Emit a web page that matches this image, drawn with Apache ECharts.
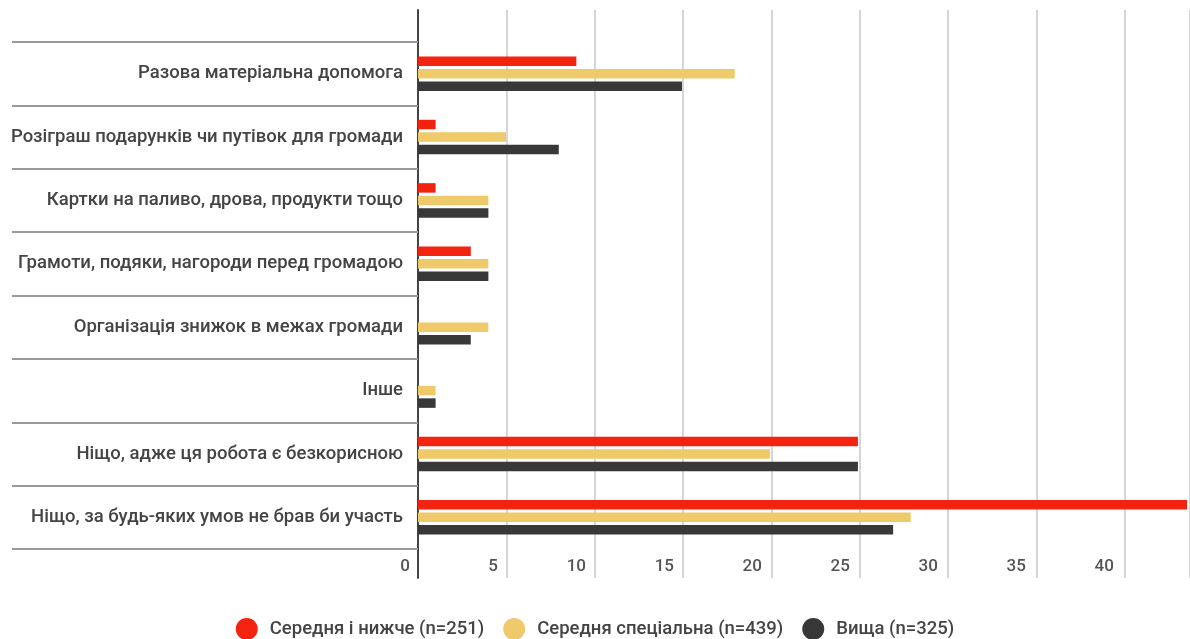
<!DOCTYPE html>
<html>
<head>
<meta charset="utf-8">
<script src="https://cdn.jsdelivr.net/npm/echarts@6/dist/echarts.min.js"></script>
<style>
html,body{margin:0;padding:0;background:#fff;}
#chart{width:1190px;height:639px;}
</style>
</head>
<body>
<div id="chart"></div>
<script>
const categories = [
  'Разова матеріальна допомога',
  'Розіграш подарунків чи путівок для громади',
  'Картки на паливо, дрова, продукти тощо',
  'Грамоти, подяки, нагороди перед громадою',
  'Організація знижок в межах громади',
  'Інше',
  'Ніщо, адже ця робота є безкорисною',
  'Ніщо, за будь-яких умов не брав би участь'
];
const seriesNames = ['Середня і нижче (n=251)', 'Середня спеціальна (n=439)', 'Вища (n=325)'];
const lowValues = [9, 1, 1, 3, 0, 0, 25, 45];
const specialValues = [18, 5, 4, 4, 4, 1, 20, 28];
const higherValues = [15, 8, 4, 4, 3, 1, 25, 27];
const xTicks = [0, 5, 10, 15, 20, 25, 30, 35, 40];

const colors = ['#f4230f', '#efca6b', '#393839'];
const font = 'Roboto, "Noto Sans", sans-serif';
const chart = echarts.init(document.getElementById('chart'));
const XMAX = 43.7;

function mkSeries(name, data, color) {
  return {
    name: name, type: 'bar', data: data, xAxisIndex: 0, yAxisIndex: 0,
    barWidth: 9.5, barGap: '32%',
    itemStyle: { color: color },
    emphasis: { disabled: true }
  };
}

chart.setOption({
  animation: false,
  textStyle: { fontFamily: font },
  grid: [
    { left: 418, right: 0, top: 42, bottom: 90 },
    { left: 418, right: 0, top: 10, bottom: 61 }
  ],
  xAxis: [
    {
      gridIndex: 0, type: 'value', min: 0, max: XMAX, interval: 5,
      axisLine: { show: false }, axisTick: { show: false }, splitLine: { show: false },
      axisLabel: {
        fontSize: 17, fontWeight: 500, color: '#555', margin: 9, align: 'right', padding: [0, 8, 0, 0],
        fontFamily: font,
        formatter: function (v) { return xTicks.indexOf(v) >= 0 ? String(v) : ''; }
      }
    },
    {
      gridIndex: 1, type: 'value', min: 0, max: XMAX, interval: 5,
      axisLine: { show: false }, axisTick: { show: false }, axisLabel: { show: false },
      splitLine: { show: true, lineStyle: { color: '#c8c8c8', width: 1.5 } }
    }
  ],
  yAxis: [
    {
      gridIndex: 0, type: 'category', data: categories, inverse: true,
      axisLine: { show: false },
      axisTick: { show: true, length: 406, lineStyle: { color: '#999', width: 2 } },
      axisLabel: { fontSize: 18.5, fontWeight: 500, color: '#444', margin: 15, fontFamily: font }
    },
    {
      gridIndex: 1, type: 'value', min: 0, max: 1,
      axisLine: { show: true, lineStyle: { color: '#444', width: 2 } },
      axisTick: { show: false }, axisLabel: { show: false }, splitLine: { show: false }
    }
  ],
  legend: {
    top: 613, left: 'center', icon: 'circle', itemWidth: 22, itemHeight: 22, itemGap: 19,
    textStyle: { fontSize: 18.5, fontWeight: 500, color: '#444', fontFamily: font, padding: [0, 0, 0, 7] },
    data: seriesNames
  },
  series: [
    mkSeries(seriesNames[0], lowValues, colors[0]),
    mkSeries(seriesNames[1], specialValues, colors[1]),
    mkSeries(seriesNames[2], higherValues, colors[2])
  ]
});
</script>
</body>
</html>
